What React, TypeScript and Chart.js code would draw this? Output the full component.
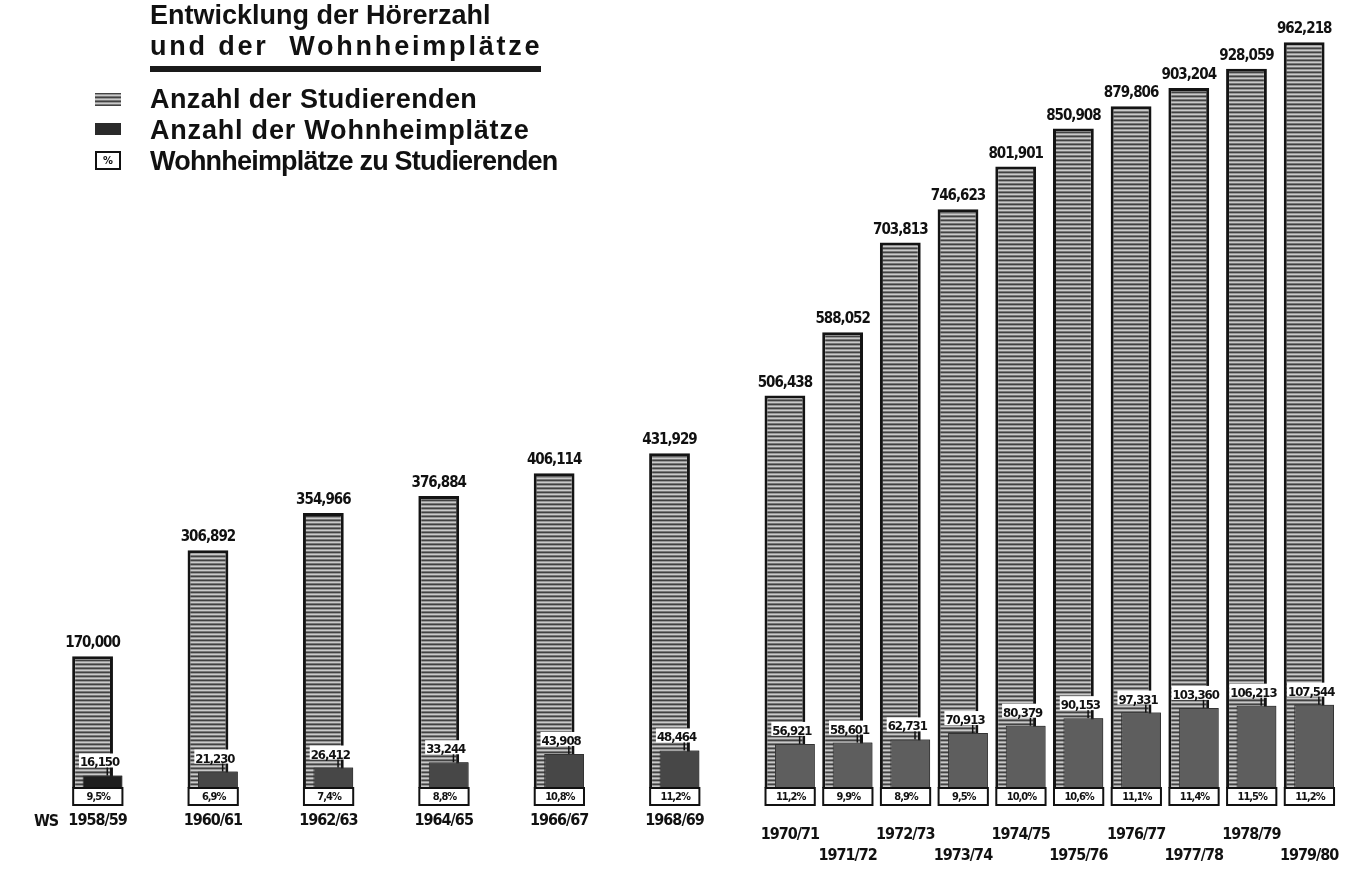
import React, { useEffect, useRef } from 'react';
import { Chart, registerables } from 'chart.js';

Chart.register(...registerables);

// ---- data ----
const years = [1958, 1960, 1962, 1964, 1966, 1968, 1970, 1971, 1972, 1973, 1974, 1975, 1976, 1977, 1978, 1979];
const semesterLabels = ['1958/59', '1960/61', '1962/63', '1964/65', '1966/67', '1968/69', '1970/71', '1971/72', '1972/73', '1973/74', '1974/75', '1975/76', '1976/77', '1977/78', '1978/79', '1979/80'];
const students = [170000, 306892, 354966, 376884, 406114, 431929, 506438, 588052, 703813, 746623, 801901, 850908, 879806, 903204, 928059, 962218];
const dormPlaces = [16150, 21230, 26412, 33244, 43908, 48464, 56921, 58601, 62731, 70913, 80379, 90153, 97331, 103360, 106213, 107544];
const dormShare = [9.5, 6.9, 7.4, 8.8, 10.8, 11.2, 11.2, 9.9, 8.9, 9.5, 10.0, 10.6, 11.1, 11.4, 11.5, 11.2];

const titleLines = ['Entwicklung der Hörerzahl', 'und der  Wohnheimplätze'];
const legendLabels = ['Anzahl der Studierenden', 'Anzahl der Wohnheimplätze', 'Wohnheimplätze zu Studierenden'];
const prefixLabel = 'WS';

const fmtNum = (v: number) => v.toLocaleString('en-US');
const fmtPct = (v: number) => v.toFixed(1).replace('.', ',') + '%';

function makeStripePattern(): CanvasPattern | string {
  const c = document.createElement('canvas');
  c.width = 4;
  c.height = 4;
  const g = c.getContext('2d');
  if (!g) return '#8c8c8c';
  const rows = ['#424242', '#989898', '#cacaca', '#787878'];
  rows.forEach((col, i) => {
    g.fillStyle = col;
    g.fillRect(0, i, 4, 1);
  });
  const p = g.createPattern(c, 'repeat');
  return p || '#8c8c8c';
}

const LABEL_FONT = '"DejaVu Sans Condensed", "DejaVu Sans", sans-serif';

const annotations = {
  id: 'annotations',
  afterDatasetsDraw(chart: any) {
    const ctx = chart.ctx as CanvasRenderingContext2D;
    const sMeta = chart.getDatasetMeta(0);
    const dMeta = chart.getDatasetMeta(1);
    const xScale = chart.scales.x;
    const base = chart.chartArea.bottom;

    // dorm bars sit in front of the student bars
    dMeta.controller.draw();

    ctx.save();
    (ctx as any).letterSpacing = '-1px';
    for (let i = 0; i < years.length; i++) {
      const s = sMeta.data[i].getProps(['x', 'y', 'width', 'base'], true);
      const d = dMeta.data[i].getProps(['x', 'y', 'width', 'base'], true);

      // percentage box, hanging below the bars
      const left = s.x - s.width / 2;
      const right = d.x + d.width / 2;
      const top = base;
      const h = 17;
      ctx.fillStyle = '#ffffff';
      ctx.fillRect(left, top, right - left, h);
      ctx.strokeStyle = '#111';
      ctx.lineWidth = 2;
      ctx.strokeRect(left + 1, top, right - left - 1, h);
      ctx.fillStyle = '#111';
      ctx.font = 'bold 11px ' + LABEL_FONT;
      ctx.textAlign = 'center';
      ctx.textBaseline = 'middle';
      ctx.fillText(fmtPct(dormShare[i]), (left + right) / 2 + 1, top + h / 2 + 0.5);

      // students value label
      ctx.font = 'bold 15px ' + LABEL_FONT;
      ctx.textBaseline = 'alphabetic';
      ctx.fillText(fmtNum(students[i]), s.x, s.y - 9);

      // dorm value label with white knock-out
      ctx.font = 'bold 13px ' + LABEL_FONT;
      const txt = fmtNum(dormPlaces[i]);
      const w = ctx.measureText(txt).width;
      const cx = d.x - 3;
      ctx.fillStyle = '#ffffff';
      ctx.fillRect(cx - w / 2 - 1, d.y - 22, w + 2, 14);
      ctx.fillStyle = '#111';
      ctx.fillText(txt, cx, d.y - 9);
      ctx.fillRect(d.x + 4, d.y - 8, 1.5, 8);

      // semester labels (staggered for annual data)
      const yr = years[i];
      const row = yr < 1970 ? 0 : yr % 2 === 0 ? 1 : 2;
      const ty = base + [33, 47, 68][row];
      ctx.font = 'bold 16px ' + LABEL_FONT;
      ctx.textBaseline = 'middle';
      ctx.fillText(semesterLabels[i], xScale.getPixelForValue(yr), ty);
    }
    ctx.font = 'bold 16px ' + LABEL_FONT;
    ctx.textBaseline = 'middle';
    ctx.fillText(prefixLabel, 46, base + 34);
    ctx.restore();
  },
};

export default function App() {
  const ref = useRef<HTMLCanvasElement | null>(null);

  useEffect(() => {
    if (!ref.current) return;
    const stripe = makeStripePattern();
    const chart = new Chart(ref.current, {
      type: 'bar',
      data: {
        datasets: [
          {
            label: legendLabels[0],
            data: years.map((y, i) => ({ x: y, y: students[i] })),
            backgroundColor: stripe as any,
            borderColor: '#141414',
            borderWidth: 3,
            categoryPercentage: 0.345,
            barPercentage: 4.1,
          },
          {
            label: legendLabels[1],
            data: years.map((y, i) => ({ x: y, y: dormPlaces[i] })),
            backgroundColor: (c: any) => {
              const yr = years[c.dataIndex] ?? 1970;
              return yr < 1960 ? '#1e1e1e' : yr < 1970 ? '#474747' : '#5e5e5e';
            },
            borderColor: '#333',
            borderWidth: 1,
            categoryPercentage: 0.345,
            barPercentage: 4.0,
          },
        ],
      },
      options: {
        responsive: false,
        animation: false,
        layout: { padding: { left: 11, right: 13, top: 13, bottom: 81 } },
        plugins: { legend: { display: false }, tooltip: { enabled: false }, title: { display: false } },
        scales: {
          x: { type: 'linear', min: 1956.5, max: 1979.5, offset: false, display: false, ticks: { stepSize: 1 } },
          y: { min: 0, max: 1000000, display: false },
        },
      },
      plugins: [annotations],
    });
    return () => chart.destroy();
  }, []);

  const textStyle: React.CSSProperties = {
    position: 'absolute',
    left: 150,
    fontFamily: '"Liberation Sans", Arial, sans-serif',
    fontWeight: 'bold',
    fontSize: 27,
    lineHeight: '31px',
    whiteSpace: 'pre',
    color: '#111',
    margin: 0,
  };

  return (
    <div style={{ position: 'absolute', left: 0, top: 0, width: 1351, height: 869, background: '#fff', overflow: 'hidden' }}>
      <canvas ref={ref} width={1351} height={869} style={{ position: 'absolute', left: 0, top: 0, display: 'block' }} />
      <div style={{ ...textStyle, top: 0 }}>{titleLines[0]}</div>
      <div style={{ ...textStyle, top: 31, letterSpacing: '2.8px' }}>{titleLines[1]}</div>
      <div style={{ position: 'absolute', left: 150, top: 66, width: 391, height: 6, background: '#1a1a1a' }} />
      <div style={{ position: 'absolute', left: 95, top: 93, width: 26, height: 13, background: 'repeating-linear-gradient(#424242 0 1px, #989898 1px 2px, #cacaca 2px 3px, #787878 3px 4px)' }} />
      <div style={{ ...textStyle, top: 84, letterSpacing: '0.4px' }}>{legendLabels[0]}</div>
      <div style={{ position: 'absolute', left: 95, top: 123, width: 26, height: 12, background: '#2a2a2a' }} />
      <div style={{ ...textStyle, top: 115, letterSpacing: '0.8px' }}>{legendLabels[1]}</div>
      <div style={{ position: 'absolute', left: 95, top: 151, width: 22, height: 15, border: '2px solid #111', background: '#fff', fontFamily: LABEL_FONT, fontWeight: 'bold', fontSize: 11, lineHeight: '15px', textAlign: 'center', color: '#111' }}>%</div>
      <div style={{ ...textStyle, top: 146, letterSpacing: '-0.8px' }}>{legendLabels[2]}</div>
    </div>
  );
}
